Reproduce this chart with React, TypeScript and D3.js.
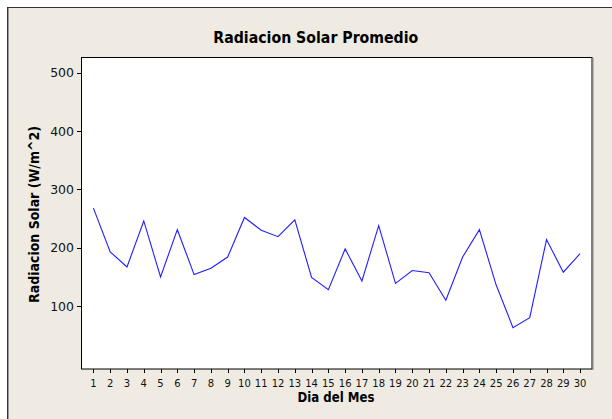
import React from "react";
import * as d3 from "d3";

const days: number[] = Array.from({ length: 30 }, (_, i) => i + 1);
const radiacion: number[] = [
  268, 193, 167, 246, 150, 231, 154, 165, 184, 252,
  230, 219, 248, 149, 128, 198, 143, 238, 139, 161,
  157, 110, 184, 231, 136, 63, 80, 214, 158, 190,
];
const yTicks: number[] = [100, 200, 300, 400, 500];
const title = "Radiacion Solar Promedio";
const xLabel = "Dia del Mes";
const yLabel = "Radiacion Solar (W/m^2)";

const W = 612;
const H = 419;
const plot = { left: 81.5, top: 57.5, right: 592, bottom: 369 };
const font = "'DejaVu Sans', Verdana, sans-serif";

export default function App() {
  const x = d3.scaleLinear().domain([0.29, 30.71]).range([plot.left, plot.right]);
  const y = d3.scaleLinear().domain([-8, 526.4]).range([plot.bottom, plot.top]);
  const line = d3
    .line<number>()
    .x((_, i) => x(days[i]))
    .y((d) => y(d));

  return (
    <div style={{ position: "absolute", left: 0, top: 0 }}>
      <svg width={W} height={H} style={{ display: "block" }}>
        <rect x={0} y={0} width={W} height={H} fill="#ffffff" />
        <rect x={7} y={7} width={W - 7} height={H - 7} fill="#efebe2" />
        <line x1={7} y1={7.5} x2={W} y2={7.5} stroke="#333" strokeWidth={1} />
        <line x1={7.5} y1={7} x2={7.5} y2={H} stroke="#333" strokeWidth={1} />
        <line x1={8.5} y1={8} x2={8.5} y2={H} stroke="#999" strokeWidth={1} />

        <rect
          x={plot.left}
          y={plot.top}
          width={plot.right - plot.left}
          height={plot.bottom - plot.top}
          fill="#ffffff"
          stroke="#000"
          strokeWidth={1}
        />
        <line x1={plot.right + 1} y1={plot.top} x2={plot.right + 1} y2={plot.bottom + 1} stroke="#888" strokeWidth={1} />

        {yTicks.map((t) => (
          <g key={t}>
            <line x1={77} x2={plot.left} y1={Math.round(y(t)) + 0.5} y2={Math.round(y(t)) + 0.5} stroke="#000" />
            <text
              x={74}
              y={y(t)}
              dy="0.36em"
              textAnchor="end"
              fontFamily={font}
              fontSize={12.5}
              fill="#111"
            >
              {t}
            </text>
          </g>
        ))}

        {days.map((d) => (
          <g key={d}>
            <line x1={Math.round(x(d)) + 0.5} x2={Math.round(x(d)) + 0.5} y1={plot.bottom} y2={373} stroke="#000" />
            <text
              x={x(d)}
              y={386.5}
              textAnchor="middle"
              fontFamily={font}
              fontSize={10}
              fill="#111"
            >
              {d}
            </text>
          </g>
        ))}

        <path d={line(radiacion) || ""} fill="none" stroke="#1f1fff" strokeWidth={1.1} />

        <text
          x={315.8}
          y={42.7}
          textAnchor="middle"
          fontFamily={font}
          fontWeight="bold"
          fontSize={15}
          textLength={205}
          lengthAdjust="spacingAndGlyphs"
          fill="#000"
        >
          {title}
        </text>
        <text
          x={336}
          y={401.5}
          textAnchor="middle"
          fontFamily={font}
          fontWeight="bold"
          fontSize={13.5}
          textLength={77}
          lengthAdjust="spacingAndGlyphs"
          fill="#000"
        >
          {xLabel}
        </text>
        <text
          transform="translate(39,214.5) rotate(-90)"
          textAnchor="middle"
          fontFamily={font}
          fontWeight="bold"
          fontSize={13.5}
          textLength={177}
          lengthAdjust="spacingAndGlyphs"
          fill="#000"
        >
          {yLabel}
        </text>
      </svg>
    </div>
  );
}
